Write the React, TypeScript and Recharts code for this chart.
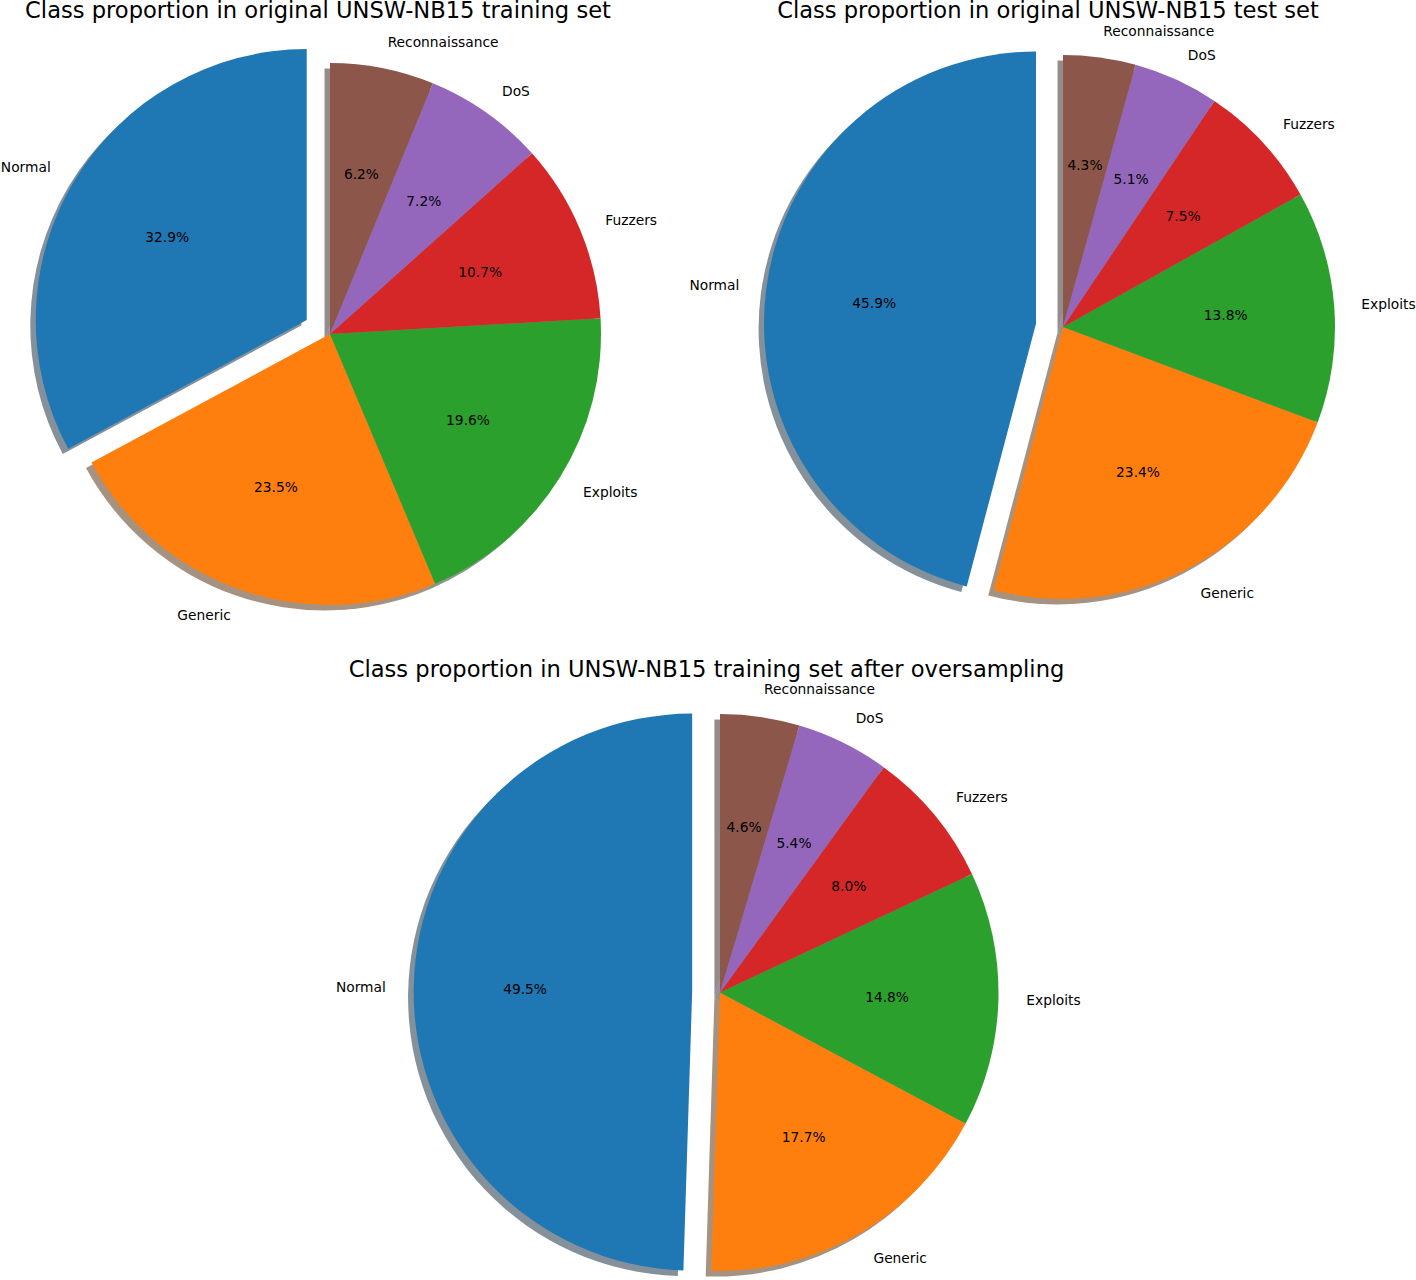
import { PieChart, Pie, Cell } from 'recharts';

const classes = ['Normal', 'Generic', 'Exploits', 'Fuzzers', 'DoS', 'Reconnaissance'];
const colors = ['#1f77b4', '#ff7f0e', '#2ca02c', '#d62728', '#9467bd', '#8c564b'];

// percentages per class, same order as classes
const trainOriginal = [32.9, 23.5, 19.6, 10.7, 7.2, 6.2];
const testOriginal = [45.9, 23.4, 13.8, 7.5, 5.1, 4.3];
const trainOversampled = [49.5, 17.7, 14.8, 8.0, 5.4, 4.6];

const titles = [
  'Class proportion in original UNSW-NB15 training set',
  'Class proportion in original UNSW-NB15 test set',
  'Class proportion in UNSW-NB15 training set after oversampling',
];

const FONT = '"DejaVu Sans", sans-serif';
const RAD = Math.PI / 180;

// matplotlib-style shadow: 30% of the face colour at half alpha
function shade(hex: string) {
  const n = parseInt(hex.slice(1), 16);
  const r = Math.round(((n >> 16) & 255) * 0.3);
  const g = Math.round(((n >> 8) & 255) * 0.3);
  const b = Math.round((n & 255) * 0.3);
  return `rgb(${r},${g},${b})`;
}

// text labels like matplotlib: name at 1.1r, pct at 0.6r
function makeLabel(only: 'normal' | 'rest') {
  return (props: any) => {
    const { cx, cy, midAngle, outerRadius, value, name, index } = props;
    if (only === 'normal' && index !== 0) return null;
    if (only === 'rest' && index === 0) return null;
    const cos = Math.cos(-midAngle * RAD);
    const sin = Math.sin(-midAngle * RAD);
    const nx = cx + outerRadius * 1.1 * cos;
    const ny = cy + outerRadius * 1.1 * sin;
    const px = cx + outerRadius * 0.6 * cos;
    const py = cy + outerRadius * 0.6 * sin;
    return (
      <g key={`lbl-${index}`}>
        <text
          x={nx}
          y={ny}
          textAnchor={cos > 0 ? 'start' : 'end'}
          dominantBaseline="central"
          fontSize={13.8}
          fontFamily={FONT}
          fill="#000"
        >
          {name}
        </text>
        <text
          x={px}
          y={py}
          textAnchor="middle"
          dominantBaseline="central"
          fontSize={13.8}
          fontFamily={FONT}
          fill="#000"
        >
          {`${Number(value).toFixed(1)}%`}
        </text>
      </g>
    );
  };
}

function piePieces(key: string, values: number[], cx: number, cy: number, r: number) {
  const data = classes.map((name, i) => ({ name, value: values[i] }));
  const total = values.reduce((a, b) => a + b, 0);
  const midNormal = 90 + (values[0] / total) * 180;
  const d = 0.1 * r; // explode
  const ex = cx + d * Math.cos(midNormal * RAD);
  const ey = cy - d * Math.sin(midNormal * RAD);
  const s = 0.02 * r; // shadow offset

  const common = {
    data,
    dataKey: 'value',
    nameKey: 'name',
    outerRadius: r,
    startAngle: 90,
    endAngle: 450,
    stroke: 'none',
    isAnimationActive: false,
    labelLine: false,
  };

  return [
    <Pie key={`${key}-sh`} {...common} cx={cx - s} cy={cy + s} label={false}>
      {data.map((_, i) => (
        <Cell key={i} fill={i === 0 ? 'none' : shade(colors[i])} fillOpacity={0.5} />
      ))}
    </Pie>,
    <Pie key={`${key}-shn`} {...common} cx={ex - s} cy={ey + s} label={false}>
      {data.map((_, i) => (
        <Cell key={i} fill={i === 0 ? shade(colors[0]) : 'none'} fillOpacity={0.5} />
      ))}
    </Pie>,
    <Pie key={`${key}-main`} {...common} cx={cx} cy={cy} label={makeLabel('rest')}>
      {data.map((_, i) => (
        <Cell key={i} fill={i === 0 ? 'none' : colors[i]} />
      ))}
    </Pie>,
    <Pie key={`${key}-n`} {...common} cx={ex} cy={ey} label={makeLabel('normal')}>
      {data.map((_, i) => (
        <Cell key={i} fill={i === 0 ? colors[0] : 'none'} />
      ))}
    </Pie>,
  ];
}

export default function App() {
  const titleStyle = (x: number, y: number): React.CSSProperties => ({
    position: 'absolute',
    left: x,
    top: y,
    transform: 'translateX(-50%)',
    whiteSpace: 'nowrap',
    fontFamily: FONT,
    fontSize: 22.6,
    lineHeight: 1,
    color: '#000',
  });

  return (
    <div style={{ position: 'absolute', left: 0, top: 0, width: 1416, height: 1280, background: '#fff' }}>
      <PieChart width={1416} height={1280} margin={{ top: 0, right: 0, bottom: 0, left: 0 }}>
        {piePieces('a', trainOriginal, 330, 334, 271)}
        {piePieces('b', testOriginal, 1063, 327, 272)}
        {piePieces('c', trainOversampled, 720, 992.5, 278.5)}
      </PieChart>
      <div style={titleStyle(318, -1)}>{titles[0]}</div>
      <div style={titleStyle(1048, -1)}>{titles[1]}</div>
      <div style={titleStyle(706.5, 658)}>{titles[2]}</div>
    </div>
  );
}
